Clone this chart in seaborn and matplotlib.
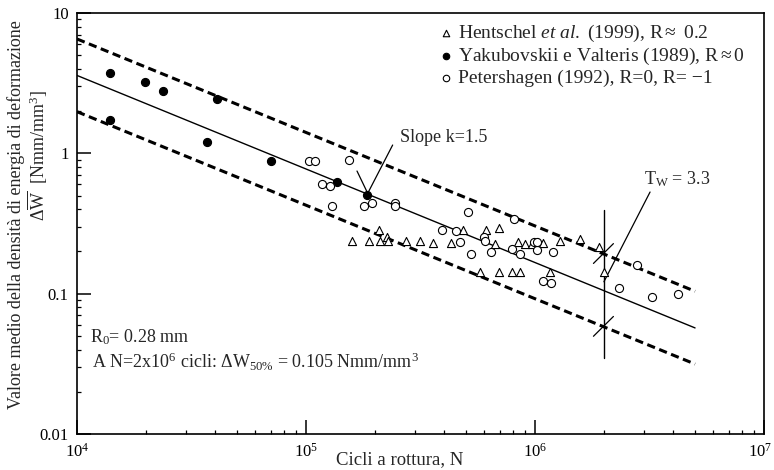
import numpy as np
import pandas as pd
import matplotlib
matplotlib.use("Agg")
import matplotlib.pyplot as plt
import matplotlib.transforms as mtransforms
import seaborn as sns
from matplotlib.ticker import LogLocator, FixedLocator, FixedFormatter, NullFormatter

# ---------------- data ----------------
hent_N = [1.59e5, 1.89e5, 2.09e5, 2.11e5, 2.25e5, 2.29e5, 2.72e5, 3.15e5, 3.60e5,
          4.28e5, 4.87e5, 6.09e5, 6.99e5, 6.69e5, 8.45e5, 9.04e5, 9.68e5, 1.03e6,
          1.08e6, 5.77e5, 6.97e5, 7.96e5, 8.59e5, 1.16e6, 1.28e6, 1.58e6, 1.91e6, 2.0e6]
hent_W = [0.236, 0.236, 0.284, 0.236, 0.252, 0.236, 0.236, 0.236, 0.228,
          0.228, 0.284, 0.284, 0.295, 0.226, 0.234, 0.226, 0.226, 0.234,
          0.231, 0.143, 0.143, 0.143, 0.143, 0.143, 0.237, 0.244, 0.214, 0.143]

yak_N = [1.39e4, 1.39e4, 1.98e4, 2.38e4, 4.07e4, 3.68e4, 7.05e4, 1.36e5, 1.84e5]
yak_W = [3.72, 1.73, 3.24, 2.77, 2.43, 1.20, 0.886, 0.621, 0.507]

pet_N = [1.03e5, 1.09e5, 1.54e5, 1.18e5, 1.27e5, 1.30e5, 1.79e5, 1.94e5, 2.45e5, 2.45e5,
         5.12e5, 8.13e5, 3.94e5, 4.51e5, 4.70e5, 6.01e5, 6.07e5, 5.23e5, 6.40e5, 7.91e5,
         8.60e5, 1.02e6, 0.99e6, 1.02e6, 1.08e6, 1.18e6, 1.20e6, 2.78e6, 2.33e6, 3.24e6, 4.2e6]
pet_W = [0.886, 0.886, 0.896, 0.604, 0.587, 0.423, 0.423, 0.445, 0.44, 0.42,
         0.382, 0.342, 0.284, 0.279, 0.232, 0.252, 0.238, 0.191, 0.198, 0.208,
         0.191, 0.205, 0.234, 0.234, 0.123, 0.120, 0.199, 0.160, 0.109, 0.094, 0.099]

# scatter band lines (endpoints)
line_N = [1e4, 5e6]
mean_W = [3.59, 0.0570]
upper_W = [6.53, 0.104]
lower_W = [1.98, 0.0315]

N_ref = 2e6          # reference cycles
W_upper_ref = 0.191  # band at N_ref
W_lower_ref = 0.0578

legend_labels = [r"Hentschel $\it{et\ al.}$ (1999), R$\approx$ 0.2",
                 r"Yakubovskii e Valteris (1989), R$\approx$0",
                 "Petershagen (1992), R=0, R= \u22121"]
xtick_vals = [1e4, 1e5, 1e6, 1e7]
xtick_labels = [r"$10^{4}$", r"$10^{5}$", r"$10^{6}$", r"$10^{7}$"]
ytick_vals = [0.01, 0.1, 1, 10]
ytick_labels = ["0.01", "0.1", "1", "10"]

# ---------------- style ----------------
sns.set_theme(style="ticks")
plt.rcParams["font.family"] = ["Liberation Serif", "DejaVu Serif"]
plt.rcParams["mathtext.fontset"] = "custom"
plt.rcParams["mathtext.rm"] = "Liberation Serif"
plt.rcParams["mathtext.it"] = "Liberation Serif:italic"
plt.rcParams["mathtext.sf"] = "Liberation Serif"

W, H = 774, 470
fig = plt.figure(figsize=(W / 100, H / 100), dpi=100)
ax = fig.add_axes([77 / W, 1 - 434 / H, 687 / W, 421 / H])
ax.set_xscale("log")
ax.set_yscale("log")

# lines
sns.lineplot(x=line_N, y=mean_W, ax=ax, color="black", lw=1.0, zorder=2)
for yy in (upper_W, lower_W):
    sns.lineplot(x=line_N, y=yy, ax=ax, color="black", lw=2.2, zorder=2,
                 dashes=False, linestyle=(0, (2.7, 1.5)))

# data
ms = 34
sns.scatterplot(x=hent_N, y=hent_W, ax=ax, marker="^", s=ms, facecolor="white",
                edgecolor="black", linewidth=0.8, label=legend_labels[0], zorder=3)
sns.scatterplot(x=yak_N, y=yak_W, ax=ax, marker="o", s=ms, color="black",
                edgecolor="black", linewidth=0.8, label=legend_labels[1], zorder=3)
sns.scatterplot(x=pet_N, y=pet_W, ax=ax, marker="o", s=ms, facecolor="white",
                edgecolor="black", linewidth=0.8, label=legend_labels[2], zorder=3)

# vertical line at N_ref and cross ticks
ax.plot([N_ref, N_ref], [0.0346, 0.394], color="black", lw=1.0, zorder=2)
for wref in (W_upper_ref, W_lower_ref):
    ax.plot([N_ref * 0.9, N_ref * 1.1], [wref * 0.86, wref * 1.19], color="black", lw=0.9)

# annotations
ax.plot([3.18e6, 2.0e6], [0.53, 0.1216], color="black", lw=0.9)
ax.text(3.0e6, 0.56, r"T$_{\mathrm{W}}$ = 3.3", fontsize=13, ha="left", va="bottom")
ax.plot([2.39e5, 1.86e5], [1.146, 0.519], color="black", lw=0.9)
ax.plot([1.67e5, 1.86e5], [0.748, 0.519], color="black", lw=0.9)
ax.text(2.57e5, 1.3, "Slope k=1.5", fontsize=13, ha="left", va="center")

fig.text(90 / W, 1 - 337 / H, r"R$_0$= 0.28 mm", fontsize=13, ha="left", va="center")
fig.text(92 / W, 1 - 362 / H,
         r"A N=2x10$^6$ cicli: $\Delta$W$_{50\%}$ = 0.105 Nmm/mm$^3$",
         fontsize=13, ha="left", va="center")

# axes
ax.set_xlim(1e4, 1e7)
ax.set_ylim(0.01, 10)
ax.xaxis.set_major_locator(FixedLocator(xtick_vals))
ax.xaxis.set_major_formatter(FixedFormatter(xtick_labels))
ax.yaxis.set_major_locator(FixedLocator(ytick_vals))
ax.yaxis.set_major_formatter(FixedFormatter(ytick_labels))
ax.xaxis.set_minor_locator(LogLocator(base=10, subs=np.arange(2, 10)))
ax.yaxis.set_minor_locator(LogLocator(base=10, subs=np.arange(2, 10)))
ax.xaxis.set_minor_formatter(NullFormatter())
ax.yaxis.set_minor_formatter(NullFormatter())
ax.tick_params(which="major", direction="in", length=10, width=1.1, labelsize=12,
               top=False, right=False, color="black", labelcolor="black", pad=6)
ax.tick_params(which="minor", direction="in", length=3, width=0.9,
               top=False, right=False, color="black")
for sp in ax.spines.values():
    sp.set_visible(True)
    sp.set_linewidth(1.2)
    sp.set_color("black")
ax.set_xlabel("")
ax.set_ylabel("")
fig.canvas.draw()
last = ax.get_xticklabels()[-1]
last.set_transform(last.get_transform() + mtransforms.ScaledTranslation(-4 / 100, 0, fig.dpi_scale_trans))

fig.text(0.47 * 687 / W + 77 / W, 1 - 460 / H, "Cicli a rottura, N", fontsize=13.5,
         ha="center", va="center")
fig.text(16 / W, 1 - 215 / H, "Valore medio della densit\u00e0 di energia di deformazione",
         fontsize=13, rotation=90, ha="center", va="center")
fig.text(38 / W, 1 - 155 / H, r"$\Delta\overline{\mathrm{W}}$  [Nmm/mm$^3$]",
         fontsize=13, rotation=90, ha="center", va="center")

leg = ax.legend(loc="upper left", bbox_to_anchor=(0.511, 0.995), frameon=False,
                fontsize=14, handletextpad=0.15, labelspacing=0.1, borderaxespad=0,
                handlelength=1.0, markerscale=0.8)

fig.savefig("out.png", dpi=100, facecolor="white")
